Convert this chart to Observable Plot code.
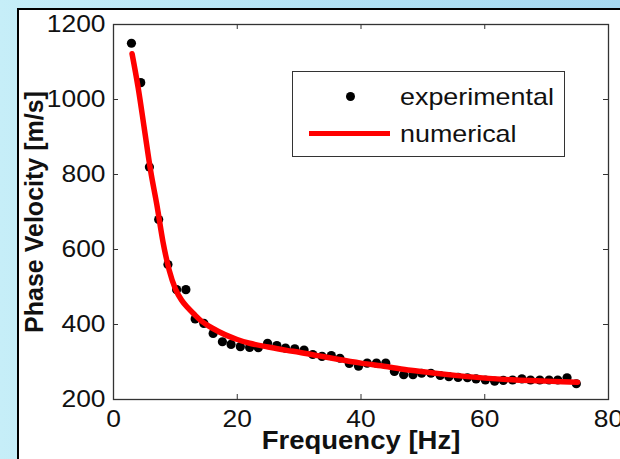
<!DOCTYPE html>
<html>
<head>
<meta charset="utf-8">
<script src="https://cdn.jsdelivr.net/npm/d3@7"></script>
<script src="https://cdn.jsdelivr.net/npm/@observablehq/plot@0.6"></script>
<style>
  html, body { margin: 0; padding: 0; }
  body {
    width: 620px; height: 459px; overflow: hidden; position: relative;
    background: linear-gradient(to right, #c6eef8 0%, #b3e2f4 50%, #a6d8f0 100%);
    font-family: "Liberation Sans", Arial, sans-serif;
  }
  #panel {
    position: absolute; left: 17px; top: 8px; right: 0; bottom: 0;
    background: #fff; border-left: 2px solid #000; border-top: 2px solid #000;
  }
  #chart { position: absolute; left: 0; top: 0; }
  #legend {
    position: absolute; left: 292px; top: 71px; width: 273px; height: 86px;
    border: 1px solid #333; background: #fff; box-sizing: border-box;
  }
  .lg-dot { position: absolute; left: 53px; top: 20px; width: 9px; height: 9px; border-radius: 50%; background: #000; }
  .lg-line { position: absolute; left: 16px; top: 59px; width: 81px; height: 5px; background: #ff0000; }
  .lg-text { position: absolute; left: 107px; font-size: 24px; color: #111; line-height: 24px;
    transform: scaleX(1.12); transform-origin: left center; white-space: nowrap; }
</style>
</head>
<body>
<div id="panel"></div>
<div id="chart"></div>
<div id="legend">
  <div class="lg-dot"></div>
  <div class="lg-text" style="top:13px">experimental</div>
  <div class="lg-line"></div>
  <div class="lg-text" style="top:50px">numerical</div>
</div>
<script>
// Experimental data: frequency [Hz] and phase velocity [m/s]
const expFreq = [2.9, 4.4, 5.8, 7.3, 8.8, 10.2, 11.7, 13.2, 14.6, 16.1,
  17.6, 19.0, 20.5, 22.0, 23.4, 24.9, 26.4, 27.8, 29.3, 30.8,
  32.2, 33.7, 35.2, 36.6, 38.1, 39.6, 41.0, 42.5, 44.0, 45.4,
  46.9, 48.4, 49.8, 51.3, 52.8, 54.2, 55.7, 57.2, 58.6, 60.1,
  61.6, 63.0, 64.5, 66.0, 67.4, 68.9, 70.4, 71.8, 73.3, 74.8];
const expVel = [1150, 1045, 820, 680, 560, 493, 493, 415, 403, 376,
  354, 347, 341, 339, 338, 350, 344, 337, 335, 332,
  320, 315, 317, 310, 296, 289, 297, 297, 297, 275,
  266, 266, 270, 270, 264, 261, 259, 258, 255, 252,
  249, 251, 252, 255, 252, 252, 252, 252, 258, 242];

// Numerical curve
const numFreq = [3, 4, 5, 6, 7, 8, 9, 10, 11, 12, 13, 14, 15, 16, 18, 20, 22, 25, 28, 30, 33, 36, 40, 44, 48, 52, 56, 60, 65, 70, 75];
const numVel = [1122, 1030, 920, 810, 720, 620, 545, 495, 465, 445, 428, 412, 400, 390, 373, 360, 350, 340, 331, 326, 317, 308, 297, 288, 278, 270, 263, 257, 252, 249, 246];

const xTicks = [0, 20, 40, 60, 80];
const yTicks = [200, 400, 600, 800, 1000, 1200];
const xLabel = "Frequency [Hz]";
const yLabel = "Phase Velocity [m/s]";

const expData = expFreq.map((f, i) => ({f, v: expVel[i]}));
const numData = numFreq.map((f, i) => ({f, v: numVel[i]}));

const STRETCH = 1.1;

const chart = Plot.plot({
  width: 620,
  height: 459,
  marginLeft: 113,
  marginRight: 12,
  marginTop: 24,
  marginBottom: 60,
  style: {background: "transparent", fontFamily: "'Liberation Sans', Arial, sans-serif", fontSize: "24px", color: "#111"},
  x: {domain: [0, 80]},
  y: {domain: [200, 1200]},
  marks: [
    Plot.frame({stroke: "#333", strokeWidth: 1.3}),
    Plot.tickX(xTicks.slice(1, -1), {x: d => d, insetTop: 370, stroke: "#333"}),
    Plot.tickX(xTicks.slice(1, -1), {x: d => d, insetBottom: 370, stroke: "#333"}),
    Plot.tickY(yTicks.slice(1, -1), {y: d => d, insetRight: 490, stroke: "#333"}),
    Plot.tickY(yTicks.slice(1, -1), {y: d => d, insetLeft: 490, stroke: "#333"}),
    Plot.axisX(xTicks, {tickSize: 0, tickPadding: 10, label: null, fill: "#111", tickFormat: d => String(d)}),
    Plot.axisY(yTicks, {tickSize: 0, tickPadding: 8, label: null, fill: "#111", tickFormat: d => String(d)}),
    Plot.dot(expData, {x: "f", y: "v", r: 4.6, fill: "#000", stroke: "none"}),
    Plot.line(numData, {x: "f", y: "v", stroke: "#ff0000", strokeWidth: 5.5, curve: "monotone-x"}),
    Plot.text([xLabel], {text: d => d, frameAnchor: "bottom", dy: 41, lineAnchor: "middle", textAnchor: "middle", fontWeight: "bold", fontSize: 25, fill: "#111"}),
    Plot.text([yLabel], {text: d => d, frameAnchor: "left", dx: -79, rotate: -90, lineAnchor: "middle", textAnchor: "middle", fontWeight: "bold", fontSize: 25, fill: "#111"})
  ]
});
document.getElementById("chart").appendChild(chart);

// horizontally stretch horizontal texts to match the reference's aspect
chart.querySelectorAll("text").forEach(t => {
  if (t.textContent === yLabel) return;
  const L = t.getComputedTextLength();
  if (L > 0) {
    t.setAttribute("textLength", (L * STRETCH).toFixed(2));
    t.setAttribute("lengthAdjust", "spacingAndGlyphs");
  }
});
</script>
</body>
</html>
